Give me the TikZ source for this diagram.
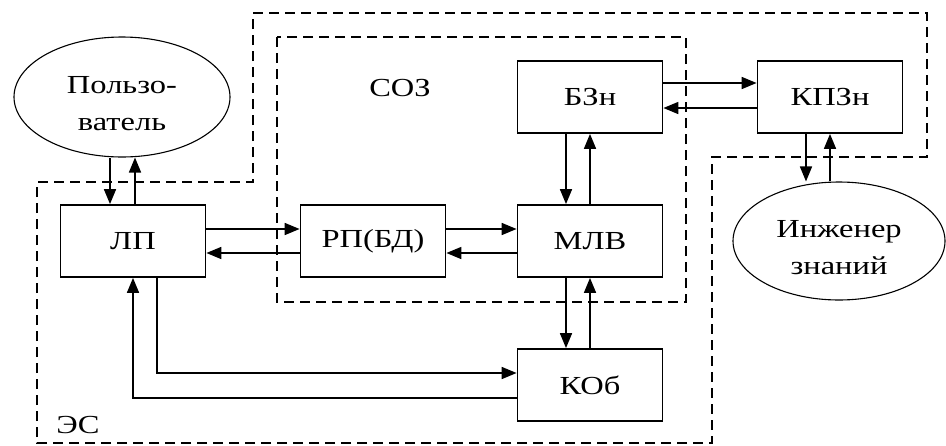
\documentclass[tikz,border=0pt]{standalone}
\usepackage{fontspec}
\setmainfont[FakeStretch=1.25]{Liberation Serif}
\usetikzlibrary{arrows.meta,shapes.geometric,calc}
\begin{document}
\begin{tikzpicture}[x=1pt,y=-1pt,
 box/.style={draw,line width=1.8pt,minimum width=145pt,minimum height=72pt,inner sep=0pt,font=\fontsize{26}{30}\selectfont},
 oval/.style={draw,line width=1.1pt,ellipse,inner sep=0pt,align=center,font=\fontsize{26}{37}\selectfont},
 arr/.style={line width=1.7pt,-{Triangle[length=15pt,width=12pt]}},
 bound/.style={line width=1.6pt,dash pattern=on 10pt off 6pt},
 lbl/.style={font=\fontsize{26}{30}\selectfont}]
\useasboundingbox (0,0) rectangle (946,445);
% boundaries
\draw[bound] (253,13) -- (927,13) -- (927,157) -- (712,157) -- (712,443) -- (37,443) -- (37,182) -- (253,182) -- cycle;
\draw[bound] (277,37) rectangle (686,302);
% nodes
\node[oval,minimum width=216pt,minimum height=120pt] (user) at (122,97) {\rule{0pt}{31pt}Пользо-\\ватель};
\node[oval,minimum width=212pt,minimum height=118pt] (eng) at (839,241) {\rule{0pt}{31pt}Инженер\\знаний};
\node[box] (lp) at (133,241) {ЛП};
\node[box] (rp) at (373,241) {РП(БД)};
\node[box] (mlv) at (590,241) {МЛВ};
\node[box] (bzn) at (590,97) {БЗн};
\node[box] (kpz) at (830,97) {КПЗн};
\node[box] (kob) at (590,385) {КОб};
\node[lbl] (soz) at (400,88) {СОЗ};
\node[lbl] (es) at (78,425) {ЭС};
% connectors
\draw[arr] ([yshift=12pt]lp.east) -- ([yshift=12pt]rp.west);
\draw[arr] ([yshift=-12pt]rp.west) -- ([yshift=-12pt]lp.east);
\draw[arr] ([yshift=12pt]rp.east) -- ([yshift=12pt]mlv.west);
\draw[arr] ([yshift=-12pt]mlv.west) -- ([yshift=-12pt]rp.east);
\draw[arr] ([yshift=14pt]bzn.east) -- ([yshift=14pt]kpz.west);
\draw[arr] ([yshift=-11pt]kpz.west) -- ([yshift=-11pt]bzn.east);
\draw[arr] ([xshift=-24pt]bzn.south) -- ([xshift=-24pt]mlv.north);
\draw[arr] (mlv.north) -- (bzn.south);
\draw[arr] ([xshift=-24pt]mlv.south) -- ([xshift=-24pt]kob.north);
\draw[arr] (kob.north) -- (mlv.south);
\draw[arr] ([xshift=-24pt]kpz.south) -- ([xshift=-24pt]kpz.south |- eng.north);
\draw[arr] (kpz.south |- eng.north) -- (kpz.south);
\draw[arr] ([xshift=-23pt]lp.north |- user.south) -- ([xshift=-23pt]lp.north);
\draw[arr] ([xshift=2pt]lp.north) -- ([xshift=2pt]lp.north |- user.south);
\draw[arr] ([xshift=24pt]lp.south) |- ([yshift=12pt]kob.west);
\draw[arr] ([yshift=-13pt]kob.west) -| (lp.south);
\end{tikzpicture}
\end{document}
